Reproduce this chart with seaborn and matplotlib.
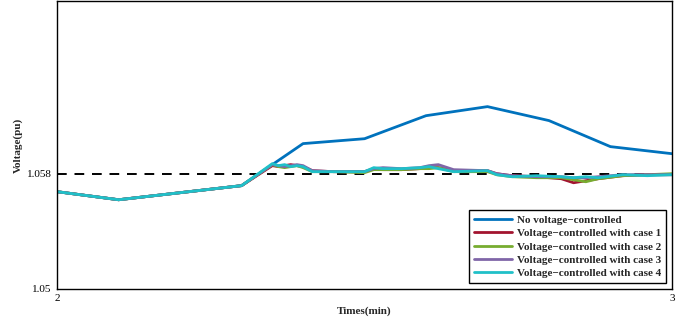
import pandas as pd
import matplotlib
matplotlib.use("Agg")
import matplotlib.pyplot as plt
import seaborn as sns

# -------- DATA --------
t_base = [2.0, 2.1, 2.2, 2.3, 2.4, 2.5, 2.6, 2.7, 2.8, 2.9, 3.0]
v_none = [1.05675, 1.05619, 1.05668, 1.05717, 1.06009, 1.06043,
          1.06203, 1.06266, 1.06169, 1.05988, 1.05939]

t_ctrl = [2.00, 2.10, 2.20, 2.30, 2.35, 2.36, 2.37, 2.38, 2.39, 2.40,
          2.415, 2.45, 2.50, 2.515, 2.53, 2.56, 2.59, 2.605, 2.62, 2.645,
          2.70, 2.715, 2.74, 2.78, 2.82, 2.84, 2.86, 2.88, 2.92, 2.96, 3.00]
v_case1 = [1.05675, 1.05619, 1.05668, 1.05717, 1.05856, 1.05849, 1.05856, 1.05863, 1.05856, 1.05849,
           1.05821, 1.05814, 1.05814, 1.05835, 1.05828, 1.05828, 1.05835, 1.05842, 1.05842, 1.05821,
           1.05821, 1.05800, 1.05786, 1.05779, 1.05765, 1.05737, 1.05751, 1.05765, 1.05786, 1.05793, 1.05793]
v_case2 = [1.05675, 1.05619, 1.05668, 1.05717, 1.05863, 1.05849, 1.05842, 1.05849, 1.05856, 1.05842,
           1.05814, 1.05814, 1.05807, 1.05828, 1.05828, 1.05828, 1.05835, 1.05835, 1.05842, 1.05814,
           1.05814, 1.05793, 1.05779, 1.05772, 1.05772, 1.05758, 1.05744, 1.05765, 1.05786, 1.05793, 1.05800]
v_case3 = [1.05675, 1.05619, 1.05668, 1.05717, 1.05863, 1.05856, 1.05849, 1.05856, 1.05863, 1.05856,
           1.05821, 1.05814, 1.05814, 1.05835, 1.05842, 1.05835, 1.05842, 1.05856, 1.05863, 1.05828,
           1.05821, 1.05800, 1.05786, 1.05779, 1.05779, 1.05772, 1.05772, 1.05779, 1.05793, 1.05793, 1.05793]
v_case4 = [1.05675, 1.05619, 1.05668, 1.05717, 1.05870, 1.05856, 1.05863, 1.05849, 1.05856, 1.05849,
           1.05814, 1.05814, 1.05814, 1.05842, 1.05835, 1.05835, 1.05842, 1.05849, 1.05835, 1.05814,
           1.05821, 1.05793, 1.05779, 1.05786, 1.05779, 1.05772, 1.05779, 1.05772, 1.05793, 1.05786, 1.05793]

v_limit = 1.058

labels = ["No voltage\u2212controlled",
          "Voltage\u2212controlled with case 1",
          "Voltage\u2212controlled with case 2",
          "Voltage\u2212controlled with case 3",
          "Voltage\u2212controlled with case 4"]
colors = ["#0072BD", "#A2142F", "#77AC30", "#8066A8", "#20C0C8"]

# -------- STYLE --------
sns.set_theme(style="white")
plt.rcParams["font.family"] = ["Liberation Serif", "DejaVu Serif"]
plt.rcParams["axes.edgecolor"] = "black"
plt.rcParams["axes.linewidth"] = 1.0

fig, ax = plt.subplots(figsize=(6.97, 3.26), dpi=100)
fig.subplots_adjust(left=0.082, right=0.964, bottom=0.114, top=0.997)

ax.axhline(v_limit, color="black", linestyle=(0, (5, 4)), linewidth=1.4, zorder=1)

sns.lineplot(x=t_base, y=v_none, ax=ax, color=colors[0], linewidth=2.0, label=labels[0])
for vals, lab, col in zip([v_case1, v_case2, v_case3, v_case4], labels[1:], colors[1:]):
    sns.lineplot(x=t_ctrl, y=vals, ax=ax, color=col, linewidth=2.0, label=lab)

ax.set_xlim(2, 3)
ax.set_ylim(1.05, 1.07)
ax.set_xticks([2, 3])
ax.set_xticklabels(["2", "3"])
ax.set_yticks([1.05, 1.058])
ax.set_yticklabels(["1.05", "1.058"])
ax.tick_params(axis="both", labelsize=8, length=0, pad=4, colors="black")

ax.set_xlabel("Times(min)", fontsize=8, fontweight="bold", labelpad=2)
ax.set_ylabel("Voltage(pu)", fontsize=8, fontweight="bold", labelpad=3)

leg = ax.legend(loc="lower right", fontsize=8, frameon=True, fancybox=False,
                edgecolor="black", framealpha=1, borderpad=0.45, labelspacing=0.32,
                handlelength=3.4, handletextpad=0.5, borderaxespad=0.5)
leg.get_frame().set_linewidth(1.0)
for txt in leg.get_texts():
    txt.set_fontweight("bold")

fig.savefig("out.png", dpi=100)
